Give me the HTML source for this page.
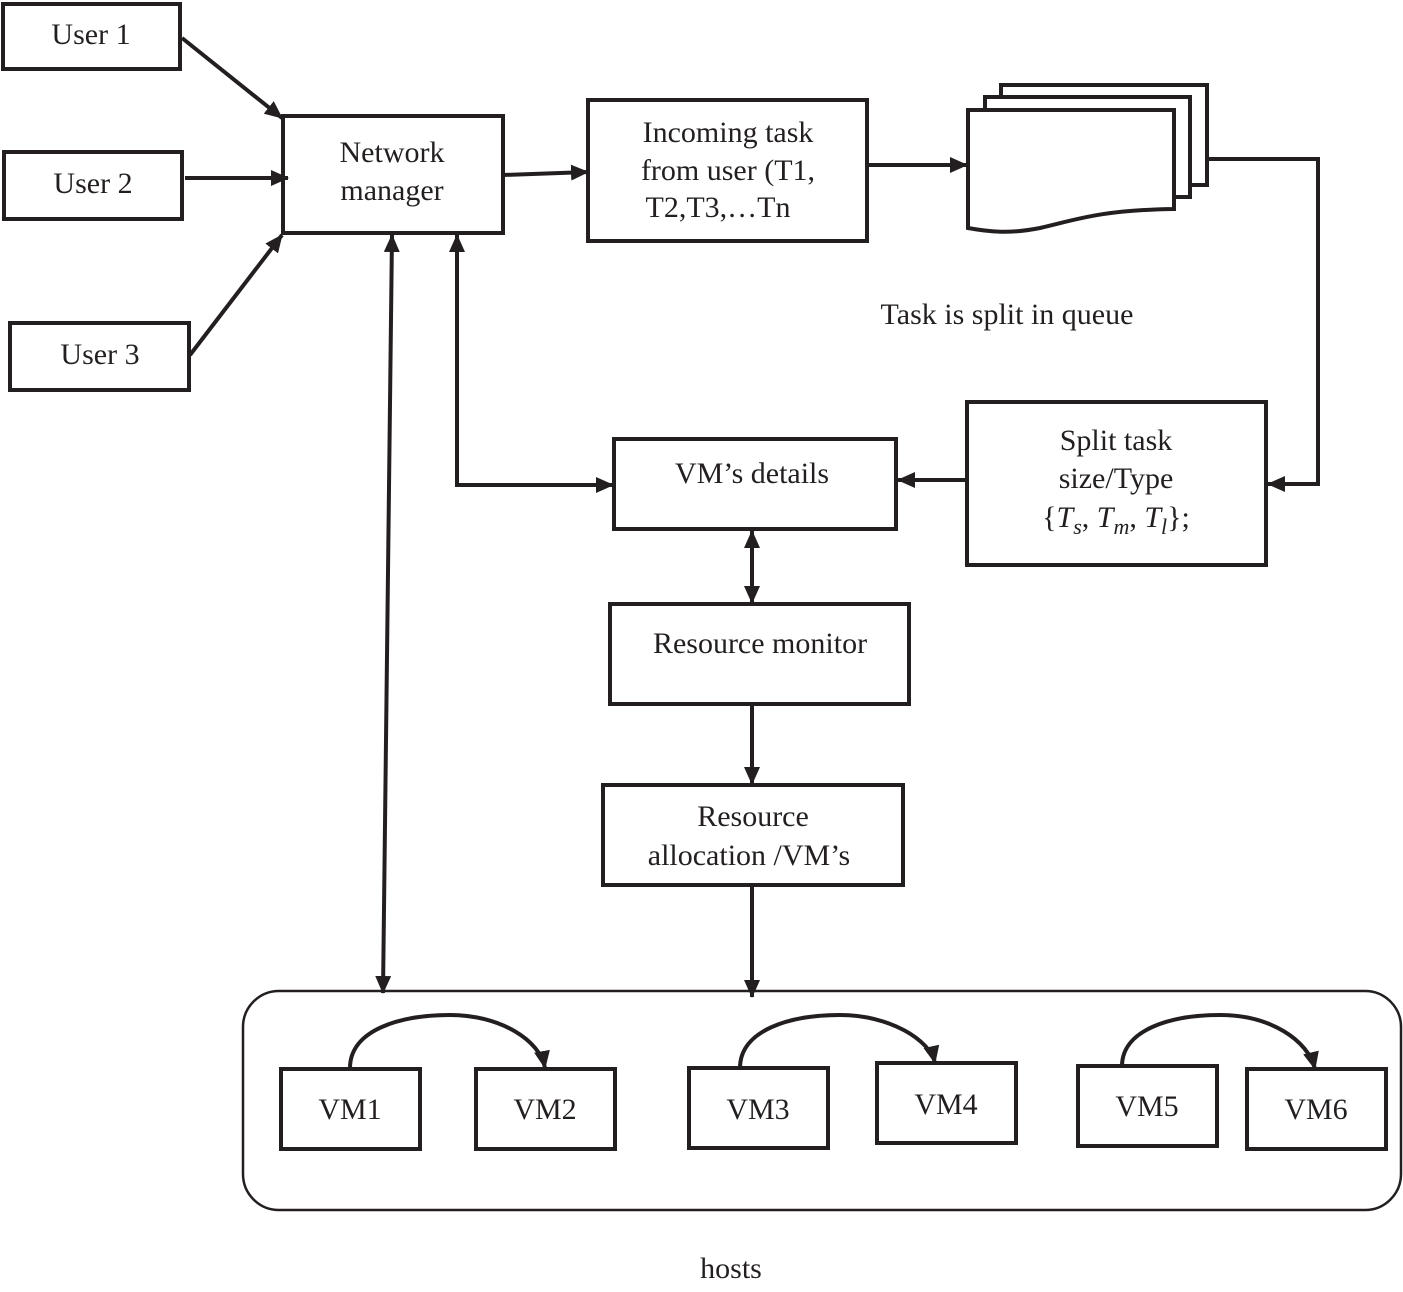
<!DOCTYPE html>
<html><head><meta charset="utf-8"><style>
body{margin:0;background:#fff}
svg text{font-family:"Liberation Serif",serif;font-size:30px;fill:#231f20}
</style></head><body>
<svg width="1403" height="1287" viewBox="0 0 1403 1287" xmlns="http://www.w3.org/2000/svg">
<defs>
<marker id="b" markerWidth="18" markerHeight="16" refX="17" refY="8" orient="auto-start-reverse" markerUnits="userSpaceOnUse" viewBox="0 0 18 16"><path d="M0,0 L18,8 L0,16 z" fill="#231f20"/></marker>
</defs>
<g fill="none" stroke="#231f20" stroke-width="4">
<rect x="3" y="4" width="177" height="65"/>
<rect x="4" y="152" width="178" height="67"/>
<rect x="10" y="323" width="179" height="67"/>
<rect x="283" y="116" width="220" height="117"/>
<rect x="588" y="100" width="279" height="141"/>
<rect x="967" y="402" width="299" height="163"/>
<rect x="614" y="439" width="282" height="90"/>
<rect x="610" y="604" width="299" height="100"/>
<rect x="603" y="785" width="300" height="100"/>
<rect x="281" y="1069" width="139" height="80"/>
<rect x="476" y="1069" width="139" height="80"/>
<rect x="689" y="1068" width="139" height="80"/>
<rect x="877" y="1063" width="139" height="80"/>
<rect x="1078" y="1066" width="139" height="80"/>
<rect x="1247" y="1069" width="139" height="80"/>
</g>
<rect x="243" y="991" width="1158" height="219" rx="36" fill="none" stroke="#231f20" stroke-width="2.5"/>
<g fill="#fff" stroke="#231f20" stroke-width="4">
<rect x="1001" y="85" width="206" height="100"/>
<rect x="985" y="97" width="205" height="100"/>
<path d="M968,110 H1174 V209 C1100,210 1075,220 1040,228 C1010,234 990,232 968,228 Z"/>
</g>
<g fill="none" stroke="#231f20" stroke-width="4">
<line x1="182" y1="38" x2="282" y2="118" marker-end="url(#b)"/>
<line x1="185" y1="178" x2="288" y2="178" marker-end="url(#b)"/>
<line x1="190" y1="355" x2="282" y2="235" marker-end="url(#b)"/>
<line x1="503" y1="175" x2="588" y2="172" marker-end="url(#b)"/>
<line x1="867" y1="165" x2="967" y2="165" marker-end="url(#b)"/>
<polyline points="1207,159 1318,159 1318,484 1268,484" marker-end="url(#b)"/>
<line x1="967" y1="480" x2="898" y2="480" marker-end="url(#b)"/>
<polyline points="457,235 457,485 613,485" marker-start="url(#b)" marker-end="url(#b)"/>
<line x1="392" y1="235" x2="383" y2="993" marker-start="url(#b)" marker-end="url(#b)"/>
<line x1="752" y1="531" x2="752" y2="603" marker-start="url(#b)" marker-end="url(#b)"/>
<line x1="752" y1="706" x2="752" y2="784" marker-end="url(#b)"/>
<line x1="752" y1="887" x2="752" y2="997" marker-end="url(#b)"/>
<path d="M350,1068 C350,1030 400,1015 450,1015 C500,1015 540,1040 545,1068" marker-end="url(#b)"/>
<path d="M740,1068 C740,1030 790,1015 840,1015 C890,1015 930,1040 935,1063" marker-end="url(#b)"/>
<path d="M1122,1066 C1122,1030 1170,1015 1220,1015 C1270,1015 1308,1040 1315,1069" marker-end="url(#b)"/>
</g>
<g text-anchor="middle">
<text x="91" y="44">User 1</text>
<text x="93" y="193">User 2</text>
<text x="100" y="364">User 3</text>
<text x="392" y="162">Network</text>
<text x="392" y="200">manager</text>
<text x="728" y="142">Incoming task</text>
<text x="728" y="180">from user (T1,</text>
<text x="718" y="217">T2,T3,…Tn</text>
<text x="1007" y="324">Task is split in queue</text>
<text x="1116" y="450">Split task</text>
<text x="1116" y="488">size/Type</text>
<text x="1116" y="527">{<tspan font-style="italic">T<tspan font-size="22" dy="7">s</tspan></tspan><tspan dy="-7">, </tspan><tspan font-style="italic">T<tspan font-size="22" dy="7">m</tspan></tspan><tspan dy="-7">, </tspan><tspan font-style="italic">T<tspan font-size="22" dy="7">l</tspan></tspan><tspan dy="-7">};</tspan></text>
<text x="752" y="483">VM’s details</text>
<text x="760" y="653">Resource monitor</text>
<text x="753" y="826">Resource</text>
<text x="749" y="865">allocation /VM’s</text>
<text x="350" y="1119">VM1</text>
<text x="545" y="1119">VM2</text>
<text x="758" y="1119">VM3</text>
<text x="946" y="1114">VM4</text>
<text x="1147" y="1116">VM5</text>
<text x="1316" y="1119">VM6</text>
<text x="731" y="1278">hosts</text>
</g>
</svg>
</body></html>
